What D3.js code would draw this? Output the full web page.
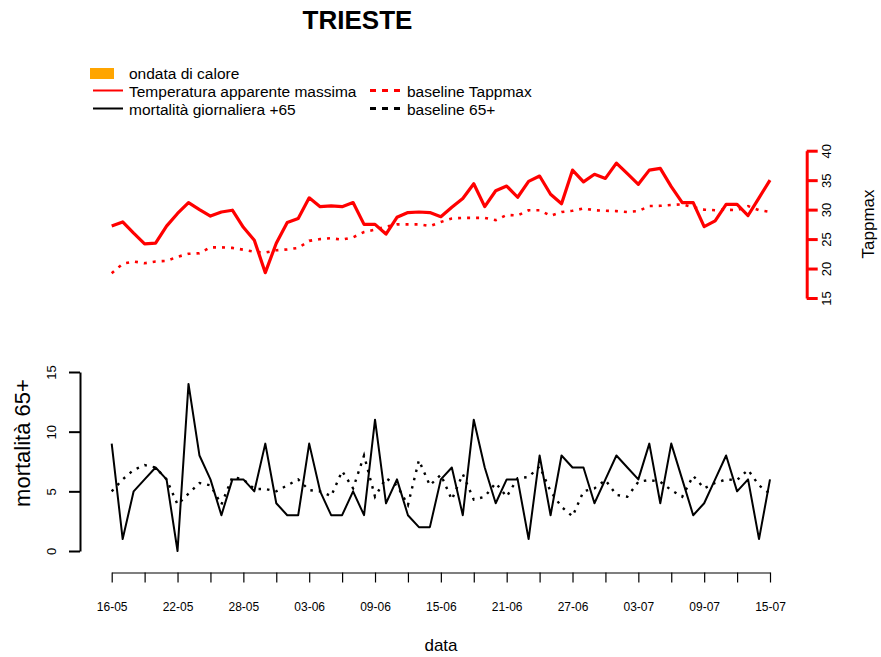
<!DOCTYPE html>
<html>
<head>
<meta charset="utf-8">
<script src="https://cdn.jsdelivr.net/npm/d3@7"></script>
<style>
  html, body { margin: 0; padding: 0; background: #fff; }
  svg { display: block; font-family: "Liberation Sans", Arial, sans-serif; }
</style>
</head>
<body>
<svg id="chart" width="881" height="657"></svg>
<script>
// ---------------- DATA ----------------
const dates = [
  "16-05","17-05","18-05","19-05","20-05","21-05","22-05","23-05","24-05","25-05",
  "26-05","27-05","28-05","29-05","30-05","31-05","01-06","02-06","03-06","04-06",
  "05-06","06-06","07-06","08-06","09-06","10-06","11-06","12-06","13-06","14-06",
  "15-06","16-06","17-06","18-06","19-06","20-06","21-06","22-06","23-06","24-06",
  "25-06","26-06","27-06","28-06","29-06","30-06","01-07","02-07","03-07","04-07",
  "05-07","06-07","07-07","08-07","09-07","10-07","11-07","12-07","13-07","14-07",
  "15-07"
];
const tappmax = [
  27.2, 27.9, 26.0, 24.2, 24.3, 27.2, 29.35, 31.2, 30.0, 28.9,
  29.6, 29.9, 27.0, 24.8, 19.3, 24.3, 27.8, 28.5, 32.0, 30.5,
  30.65, 30.5, 31.2, 27.5, 27.5, 25.85, 28.7, 29.5, 29.6, 29.5,
  28.8, 30.4, 31.9, 34.4, 30.5, 33.2, 34.0, 32.1, 34.8, 35.7,
  32.6, 31.0, 36.7, 34.7, 36.0, 35.3, 37.9, 36.1, 34.3, 36.7,
  37.0, 33.9, 31.2, 31.2, 27.1, 28.1, 30.9, 30.9, 29.0, 32.0,
  35.0
];
const baselineTapp = [
  19.2, 20.8, 21.2, 20.9, 21.2, 21.3, 22.0, 22.5, 22.6, 23.6,
  23.6, 23.5, 23.2, 22.85, 22.7, 23.1, 23.25, 23.5, 24.7, 25.0,
  25.15, 24.9, 25.3, 26.2, 26.6, 27.1, 27.5, 27.5, 27.5, 27.2,
  27.9, 28.5, 28.6, 28.6, 28.6, 28.2, 29.1, 29.0, 29.9, 29.9,
  28.95, 29.6, 29.8, 30.2, 29.9, 29.8, 29.75, 29.6, 29.75, 30.6,
  30.65, 30.8, 30.9, 30.4, 30.0, 29.9, 30.0, 29.9, 30.6, 29.9,
  29.6
];
const mortalita65 = [
  9, 1, 5, 6, 7, 6, 0, 14, 8, 6,
  3, 6, 6, 5, 9, 4, 3, 3, 9, 5,
  3, 3, 5, 3, 11, 4, 6, 3, 2, 2,
  6, 7, 3, 11, 7, 4, 6, 6, 1, 8,
  3, 8, 7, 7, 4, 6, 8, 7, 6, 9,
  4, 9, 6, 3, 4, 6, 8, 5, 6, 1,
  6
];
const baseline65 = [
  5.0, 6.0, 6.8, 7.2, 7.0, 6.0, 3.9, 4.8, 5.7, 5.5,
  3.9, 6.2, 6.0, 5.2, 5.2, 5.0, 5.5, 6.0, 5.1, 5.0,
  4.6, 6.7, 5.25, 8.0, 4.55, 6.1, 5.5, 3.85, 7.6, 5.5,
  6.4, 4.3, 6.45, 4.3, 4.55, 5.7, 4.55, 6.1, 6.2, 7.1,
  5.0, 3.7, 2.9, 5.0, 5.25, 5.95, 4.7, 4.55, 5.8, 5.95,
  5.8, 5.1, 4.55, 6.3, 5.25, 5.7, 6.0, 5.95, 6.8, 5.5,
  4.8
];
const tappTicks = [15, 20, 25, 30, 35, 40];
const mortTicks = [0, 5, 10, 15];
const xTickLabels = ["16-05","22-05","28-05","03-06","09-06","15-06","21-06","27-06","03-07","09-07","15-07"];
const legendItems = ["ondata di calore", "Temperatura apparente massima", "baseline Tappmax", "mortalità giornaliera +65", "baseline 65+"];

// ---------------- CHART ----------------
const svg = d3.select("#chart");
const RED = "#FF0000";

const x = d3.scalePoint().domain(dates).range([111.7, 770]);
const yT = d3.scaleLinear().domain([15, 40]).range([298, 150.7]);
const yM = d3.scaleLinear().domain([0, 15]).range([551, 372]);

// Title
svg.append("text")
  .attr("x", 357.5).attr("y", 29)
  .attr("text-anchor", "middle")
  .attr("font-size", 26).attr("font-weight", "bold")
  .text("TRIESTE");

// Legend
const lg = svg.append("g").attr("font-size", 15.5);
lg.append("rect").attr("x", 90).attr("y", 68).attr("width", 24).attr("height", 11).attr("fill", "#FFA500");
lg.append("text").attr("x", 129).attr("y", 78.5).text(legendItems[0]);
lg.append("line").attr("x1", 93).attr("x2", 123).attr("y1", 90.5).attr("y2", 90.5).attr("stroke", RED).attr("stroke-width", 2);
lg.append("text").attr("x", 129).attr("y", 96.5).text(legendItems[1]);
lg.append("line").attr("x1", 370).attr("x2", 400).attr("y1", 90.5).attr("y2", 90.5).attr("stroke", RED).attr("stroke-width", 3).attr("stroke-dasharray", "6,6");
lg.append("text").attr("x", 407).attr("y", 96.5).text(legendItems[2]);
lg.append("line").attr("x1", 93).attr("x2", 123).attr("y1", 108.5).attr("y2", 108.5).attr("stroke", "#000").attr("stroke-width", 2);
lg.append("text").attr("x", 129).attr("y", 114.5).text(legendItems[3]);
lg.append("line").attr("x1", 370).attr("x2", 400).attr("y1", 108.5).attr("y2", 108.5).attr("stroke", "#000").attr("stroke-width", 3).attr("stroke-dasharray", "6,6");
lg.append("text").attr("x", 407).attr("y", 114.5).text(legendItems[4]);

// Lines
const lineT = d3.line().x((d, i) => x(dates[i])).y(d => yT(d));
const lineM = d3.line().x((d, i) => x(dates[i])).y(d => yM(d));

svg.append("path").datum(baselineTapp).attr("d", lineT)
  .attr("fill", "none").attr("stroke", RED).attr("stroke-width", 2.6)
  .attr("stroke-dasharray", "3,6");
svg.append("path").datum(tappmax).attr("d", lineT)
  .attr("fill", "none").attr("stroke", RED).attr("stroke-width", 3.2)
  .attr("stroke-linejoin", "round");

svg.append("path").datum(baseline65).attr("d", lineM)
  .attr("fill", "none").attr("stroke", "#000").attr("stroke-width", 2.4)
  .attr("stroke-dasharray", "2.5,6");
svg.append("path").datum(mortalita65).attr("d", lineM)
  .attr("fill", "none").attr("stroke", "#000").attr("stroke-width", 2)
  .attr("stroke-linejoin", "round");

// Right axis (Tappmax)
const axT = svg.append("g").attr("transform", "translate(806.7,0)")
  .call(d3.axisRight(yT).tickValues(tappTicks).tickSize(11).tickSizeOuter(0));
axT.select(".domain").attr("stroke", RED).attr("stroke-width", 3);
axT.selectAll(".tick line").attr("stroke", RED).attr("stroke-width", 3);
axT.selectAll(".tick text")
  .attr("x", 0).attr("dy", 0)
  .attr("transform", "translate(24,0) rotate(-90)")
  .attr("text-anchor", "middle")
  .attr("font-size", 13).attr("fill", "#000")
  .attr("font-family", "Liberation Sans, Arial, sans-serif");
svg.append("text")
  .attr("transform", "translate(874,224) rotate(-90)")
  .attr("text-anchor", "middle").attr("font-size", 17)
  .text("Tappmax");

// Left axis (mortalità)
const axM = svg.append("g").attr("transform", "translate(80,0)")
  .call(d3.axisLeft(yM).tickValues(mortTicks).tickSize(11).tickSizeOuter(0));
axM.select(".domain").attr("stroke", "#000").attr("stroke-width", 2);
axM.selectAll(".tick line").attr("stroke", "#000").attr("stroke-width", 2);
axM.selectAll(".tick text")
  .attr("x", 0).attr("dy", 0)
  .attr("transform", "translate(-23.7,0) rotate(-90)")
  .attr("text-anchor", "middle")
  .attr("font-size", 13).attr("fill", "#000")
  .attr("font-family", "Liberation Sans, Arial, sans-serif");
svg.append("text")
  .attr("transform", "translate(30,443) rotate(-90)")
  .attr("text-anchor", "middle").attr("font-size", 22)
  .text("mortalità 65+");

// Bottom axis (data)
const axX = svg.append("g").attr("transform", "translate(0,572.5)")
  .call(d3.axisBottom(x).tickValues(dates.filter((d, i) => i % 3 === 0)).tickSize(10).tickSizeOuter(0).tickFormat(d => xTickLabels.includes(d) ? d : ""));
axX.select(".domain").attr("stroke", "#000").attr("stroke-width", 1.2);
axX.selectAll(".tick line").attr("stroke", "#000").attr("stroke-width", 1.2);
axX.selectAll(".tick text")
  .attr("y", 38).attr("dy", 0)
  .attr("font-size", 12).attr("fill", "#000")
  .attr("font-family", "Liberation Sans, Arial, sans-serif");
svg.append("text")
  .attr("x", 441).attr("y", 651)
  .attr("text-anchor", "middle").attr("font-size", 17)
  .text("data");
</script>
</body>
</html>
